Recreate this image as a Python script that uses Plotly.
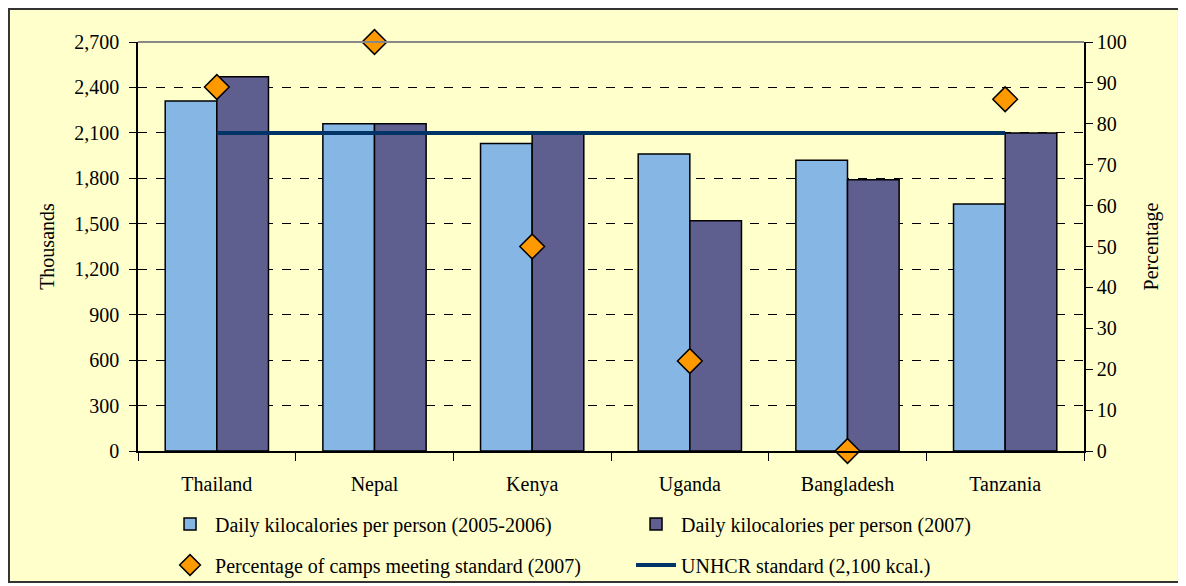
import plotly.graph_objects as go

# chart data
countries = ['Thailand', 'Nepal', 'Kenya', 'Uganda', 'Bangladesh', 'Tanzania']
kcal_2005_2006 = [2310, 2160, 2030, 1960, 1920, 1630]
kcal_2007 = [2470, 2160, 2100, 1520, 1790, 2100]
pct_camps_meeting = [89, 100, 50, 22, 0, 86]
unhcr_standard = [2100, 2100, 2100, 2100, 2100, 2100]

FONT = 'Liberation Serif'
FS = 20
BG = '#FFFFCC'

fig = go.Figure()

fig.add_trace(go.Bar(
    x=countries, y=kcal_2005_2006,
    name='Daily kilocalories per person (2005-2006)',
    marker=dict(color='#86B6E4', line=dict(color='black', width=1.5)),
    legend='legend',
))
fig.add_trace(go.Bar(
    x=countries, y=kcal_2007,
    name='Daily kilocalories per person (2007)',
    marker=dict(color='#5F5F8F', line=dict(color='black', width=1.5)),
    legend='legend',
))
fig.add_trace(go.Scatter(
    x=countries, y=pct_camps_meeting, yaxis='y2', mode='markers',
    name='Percentage of camps meeting standard (2007)',
    marker=dict(symbol='diamond', size=19, color='#FF9900',
                line=dict(color='black', width=1.5)),
    cliponaxis=False,
    legend='legend2',
))
fig.add_trace(go.Scatter(
    x=countries, y=unhcr_standard, mode='lines',
    name='UNHCR standard (2,100 kcal.)',
    line=dict(color='#003366', width=4),
    legend='legend2',
))

# outer yellow frame
fig.add_shape(type='rect', xref='paper', yref='paper',
              x0=-0.1364, x1=1.1004, y0=-0.3203, y1=1.0807,
              fillcolor=BG, line=dict(color='#333333', width=2), layer='below')
# grey top border of plot area
fig.add_shape(type='line', xref='paper', yref='paper', x0=0, x1=1, y0=1, y1=1,
              line=dict(color='#888888', width=2))

legend_style = dict(orientation='h', xref='container', yref='container',
                    xanchor='left', yanchor='middle',
                    entrywidth=411, entrywidthmode='pixels',
                    font=dict(family=FONT, size=FS), bgcolor='rgba(0,0,0,0)',
                    traceorder='normal', itemwidth=40)

fig.update_layout(
    width=1178, height=578,
    margin=dict(l=130, r=102, t=34, b=135, autoexpand=False),
    paper_bgcolor='white',
    plot_bgcolor='rgba(0,0,0,0)',
    font=dict(family=FONT, size=FS, color='black'),
    barmode='group', bargap=0.345, bargroupgap=0,
    showlegend=True,
    legend=dict(x=0.1333, y=(586 - 524) / 578, **legend_style),
    legend2=dict(x=0.1333, y=(586 - 565) / 578, **legend_style),
    xaxis=dict(showline=True, linecolor='black', linewidth=1.5,
               ticks='outside', tickson='boundaries', ticklen=8, tickcolor='black',
               ticklabelstandoff=14,
               tickfont=dict(family=FONT, size=FS)),
    yaxis=dict(title=dict(text='Thousands', font=dict(family=FONT, size=FS), standoff=14),
               range=[0, 2700], dtick=300, tickformat=',',
               showline=True, linecolor='black', linewidth=1.5,
               ticks='outside', ticklen=7, tickcolor='black', ticklabelstandoff=6,
               showgrid=True, gridcolor='black', griddash='dash', gridwidth=1,
               zeroline=False),
    yaxis2=dict(title=dict(text='Percentage', font=dict(family=FONT, size=FS), standoff=18),
                overlaying='y', side='right', range=[0, 100], dtick=10,
                showline=True, linecolor='black', linewidth=1.5,
                ticks='outside', ticklen=7, tickcolor='black',
                showgrid=False, zeroline=False),
)

fig.write_html('out.html')
